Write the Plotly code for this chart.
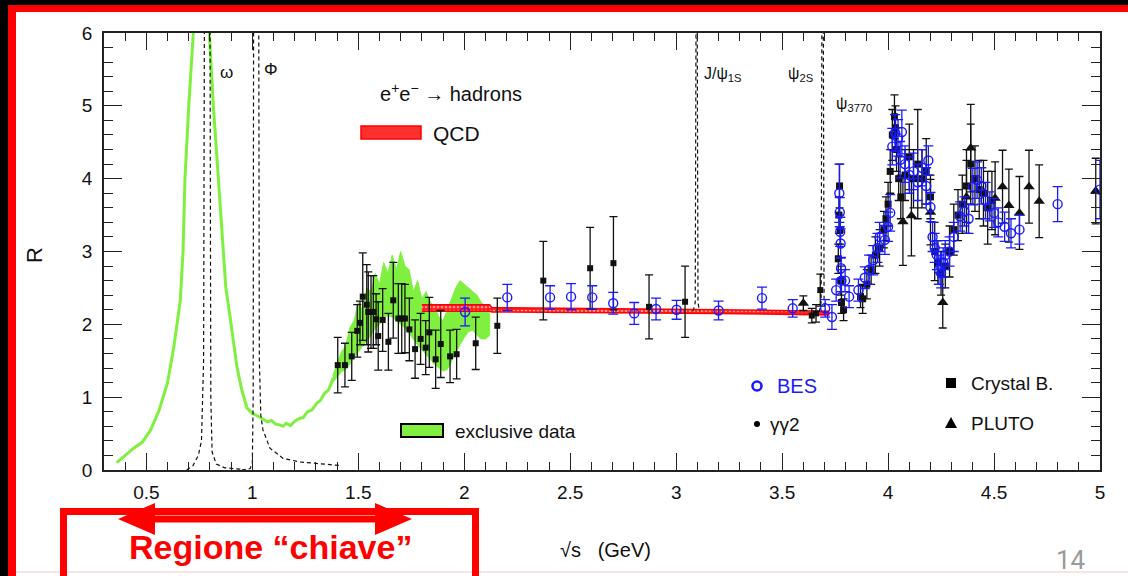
import plotly.graph_objects as go

# ---------------- data ----------------
# exclusive data (green): thin curve at low energy, band above 1.4 GeV
green_x = [0.36, 0.40, 0.44, 0.48, 0.52, 0.56, 0.60, 0.63, 0.66, 0.673, 0.682, 0.70, 0.719, 0.74,
           0.775, 0.785, 0.797, 0.816, 0.839, 0.86, 0.875, 0.895, 0.91, 0.927, 0.95, 0.975, 1.00,
           1.02, 1.05, 1.07, 1.09, 1.11, 1.13, 1.145, 1.16, 1.18, 1.20, 1.225, 1.24, 1.26, 1.28,
           1.305, 1.32, 1.34, 1.36, 1.38, 1.40]
green_y = [0.10, 0.20, 0.30, 0.38, 0.55, 0.82, 1.20, 1.70, 2.33, 3.00, 4.00, 5.00, 6.00, 7.50,
           8.50, 7.50, 6.00, 5.00, 4.00, 3.00, 2.50, 2.10, 1.75, 1.42, 1.10, 0.85, 0.78,
           0.75, 0.70, 0.66, 0.68, 0.63, 0.62, 0.60, 0.64, 0.61, 0.67, 0.71, 0.72, 0.80, 0.82,
           0.92, 0.95, 1.05, 1.10, 1.25, 1.30]
band_x = [1.38, 1.40, 1.42, 1.44, 1.46, 1.48, 1.50, 1.52, 1.54, 1.56, 1.58, 1.60, 1.62, 1.64,
          1.66, 1.68, 1.70, 1.72, 1.74, 1.76, 1.78, 1.80, 1.82, 1.84, 1.86, 1.88, 1.90, 1.92,
          1.94, 1.96, 1.98, 2.00, 2.02, 2.04, 2.06, 2.08, 2.10, 2.12]
band_hi = [1.30, 1.45, 1.62, 1.70, 1.95, 2.05, 2.30, 2.20, 2.50, 2.45, 2.70, 2.55, 2.85, 2.70,
           2.95, 2.75, 3.00, 2.80, 2.75, 2.45, 2.60, 2.35, 2.45, 2.30, 2.25, 2.10, 2.05, 2.20,
           2.35, 2.50, 2.60, 2.55, 2.50, 2.45, 2.40, 2.30, 2.25, 2.15]
band_lo = [1.20, 1.28, 1.35, 1.38, 1.45, 1.55, 1.62, 1.70, 1.78, 1.85, 1.95, 2.00, 2.10, 2.12,
           2.10, 2.05, 2.00, 1.95, 1.88, 1.80, 1.72, 1.65, 1.58, 1.52, 1.45, 1.40, 1.36, 1.38,
           1.48, 1.60, 1.72, 1.82, 1.90, 1.92, 1.85, 1.80, 1.80, 1.85]

# QCD band
qcd_x = [1.80, 2.12, 2.13, 2.60, 3.20, 3.72]
qcd_lo = [2.18, 2.18, 2.17, 2.16, 2.15, 2.13]
qcd_hi = [2.27, 2.27, 2.23, 2.22, 2.20, 2.18]

# narrow resonances (dashed)
omega_x = [0.69, 0.72, 0.745, 0.76, 0.770, 0.774, 0.800, 0.804, 0.81, 0.83, 0.87, 0.95]
omega_y = [0.00, 0.06, 0.20, 0.40, 1.50, 6.50, 6.50, 1.00, 0.25, 0.08, 0.03, 0.01]
phi_x = [0.95, 0.99, 1.00, 1.004, 1.006, 1.030, 1.033, 1.04, 1.05, 1.083, 1.145, 1.225, 1.38, 1.42]
phi_y = [0.00, 0.02, 0.10, 1.00, 6.50, 6.50, 1.50, 0.75, 0.55, 0.30, 0.16, 0.11, 0.07, 0.06]
jpsi_x = [3.08, 3.09, 3.094, 3.099, 3.103, 3.11]
jpsi_y = [2.18, 2.30, 6.50, 6.50, 2.30, 2.18]
psi2s_x = [3.675, 3.684, 3.688, 3.694, 3.698, 3.705]
psi2s_y = [2.17, 2.30, 6.50, 6.50, 2.30, 2.15]

# gamma gamma 2
gg2_x = [1.403, 1.437, 1.469, 1.495, 1.508, 1.521, 1.540, 1.547, 1.560, 1.571, 1.584, 1.594,
         1.615, 1.642, 1.665, 1.689, 1.705, 1.720, 1.741, 1.768, 1.794, 1.818, 1.835, 1.865,
         1.889, 1.933, 1.964, 2.054, 2.156, 2.373, 2.594, 2.704, 2.872, 3.042, 3.64, 3.66, 3.68]
gg2_y = [1.44, 1.44, 1.56, 1.91, 2.02, 2.38, 2.27, 2.17, 2.17, 2.17, 2.07, 1.84,
         2.06, 1.76, 2.33, 2.08, 2.08, 2.08, 1.93, 1.66, 1.80, 1.68, 1.89, 1.52,
         1.73, 1.56, 1.59, 1.74, 1.98, 2.60, 2.77, 2.84, 2.24, 2.31, 2.12, 2.15, 2.47]
gg2_e = [0.38, 0.30, 0.33, 0.36, 0.30, 0.60, 0.55, 0.55, 0.50, 0.50, 0.35, 0.47,
         0.43, 0.39, 0.52, 0.48, 0.48, 0.47, 0.43, 0.40, 0.35, 0.37, 0.48, 0.40,
         0.46, 0.36, 0.34, 0.36, 0.38, 0.54, 0.56, 0.64, 0.44, 0.49, 0.10, 0.12, 0.22]

# BES
bes_x = [2.004, 2.203, 2.405, 2.504, 2.604, 2.703, 2.802, 2.905, 3.002, 3.20, 3.405, 3.55,
         3.703, 3.735, 3.755, 3.770, 3.772, 3.774, 3.776, 3.778, 3.780, 3.797, 3.816, 3.86,
         3.89, 3.91, 3.93, 3.95, 3.96, 3.985, 4.00, 4.01, 4.02, 4.033, 4.047, 4.057, 4.065,
         4.08, 4.10, 4.12, 4.14, 4.16, 4.18, 4.19, 4.20, 4.21, 4.22, 4.23, 4.24, 4.25, 4.26,
         4.27, 4.29, 4.31, 4.34, 4.36, 4.38, 4.40, 4.42, 4.44, 4.46, 4.48, 4.50, 4.52, 4.55,
         4.58, 4.62, 4.80, 5.00]
bes_y = [2.17, 2.37, 2.37, 2.38, 2.37, 2.29, 2.15, 2.21, 2.20, 2.19, 2.36, 2.22,
         2.22, 2.10, 2.47, 3.80, 3.54, 3.27, 3.11, 2.77, 2.60, 2.60, 2.38, 2.47,
         2.64, 2.75, 2.88, 3.05, 3.20, 3.16, 3.34, 3.53, 4.44, 4.63, 4.56, 4.26, 4.64,
         4.20, 4.05, 4.10, 3.95, 4.15, 3.90, 4.25, 3.61, 3.20, 3.05, 2.95, 2.75, 2.70, 2.85,
         2.95, 3.00, 3.20, 3.48, 3.55, 3.45, 3.89, 3.98, 3.90, 3.70, 3.62, 3.53, 3.40, 3.34,
         3.25, 3.30, 3.65, 3.85]
bes_e = [0.19, 0.18, 0.16, 0.18, 0.16, 0.15, 0.15, 0.15, 0.13, 0.13, 0.15, 0.12,
         0.12, 0.17, 0.15, 0.40, 0.20, 0.20, 0.20, 0.15, 0.15, 0.15, 0.15, 0.15,
         0.15, 0.20, 0.20, 0.20, 0.20, 0.20, 0.20, 0.25, 0.25, 0.25, 0.25, 0.25, 0.30,
         0.25, 0.25, 0.25, 0.25, 0.25, 0.25, 0.20, 0.20, 0.20, 0.20, 0.20, 0.20, 0.20, 0.20,
         0.20, 0.20, 0.20, 0.20, 0.20, 0.20, 0.25, 0.25, 0.25, 0.25, 0.20, 0.20, 0.20, 0.20,
         0.20, 0.20, 0.24, 0.40]

# Crystal Ball
cb_x = [3.765, 3.768, 3.771, 3.774, 3.777, 3.780, 3.790, 3.87, 3.88, 3.90, 3.92, 3.94, 3.96,
        3.98, 3.99, 4.00, 4.01, 4.02, 4.03, 4.035, 4.04, 4.05, 4.06, 4.08, 4.10, 4.12, 4.14,
        4.16, 4.18, 4.20, 4.22, 4.235, 4.25, 4.27, 4.29, 4.31, 4.33, 4.35, 4.37, 4.39, 4.41,
        4.43, 4.45, 4.47, 4.49]
cb_y = [2.90, 3.50, 3.90, 3.30, 2.60, 2.30, 2.20, 2.38, 2.35, 2.55, 2.75, 2.95, 3.05,
        3.30, 3.45, 3.65, 4.10, 4.60, 4.85, 4.70, 4.40, 4.00, 3.75, 4.05, 4.30, 4.00, 4.20,
        4.00, 4.10, 3.75, 3.00, 2.85, 2.70, 2.80, 3.00, 3.30, 3.50, 3.65, 3.90, 4.20, 4.00,
        3.85, 3.80, 3.60, 3.70]
cb_e = [0.20, 0.25, 0.30, 0.20, 0.20, 0.15, 0.15, 0.15, 0.20, 0.20, 0.20, 0.25, 0.25,
        0.25, 0.30, 0.30, 0.30, 0.35, 0.30, 0.30, 0.30, 0.30, 0.30, 0.35, 0.45, 0.40, 0.75,
        0.40, 0.45, 0.30, 0.40, 0.30, 0.30, 0.30, 0.35, 0.35, 0.35, 0.40, 0.50, 0.55, 0.45,
        0.40, 0.45, 0.50, 0.40]

# PLUTO
pl_x = [3.60, 4.07, 4.11, 4.20, 4.258, 4.37, 4.39, 4.505, 4.54, 4.57, 4.62, 4.665, 4.713, 4.98]
pl_y = [2.29, 3.41, 3.49, 3.54, 2.30, 3.75, 4.42, 3.73, 3.89, 3.63, 3.53, 3.89, 3.69, 3.83]
pl_e = [0.10, 0.60, 0.55, 0.45, 0.35, 0.50, 0.60, 0.50, 0.50, 0.50, 0.50, 0.50, 0.50, 0.45]

x_tickvals = [0.5, 1, 1.5, 2, 2.5, 3, 3.5, 4, 4.5, 5]
x_ticktext = ["0.5", "1", "1.5", "2", "2.5", "3", "3.5", "4", "4.5", "5"]
y_tickvals = [0, 1, 2, 3, 4, 5, 6]
y_ticktext = ["0", "1", "2", "3", "4", "5", "6"]

# ---------------- styling / geometry ----------------
W, H = 1128, 576
L, R_, T, B = 104, 1100, 33, 470
XR, YR = [0.3, 5.0], [0, 6]
FONT = "Liberation Sans, Arial, Helvetica, sans-serif"
NARROW = "Liberation Sans Narrow, Arial Narrow, Liberation Sans, sans-serif"
GREEN = "#80f040"
BLUE = "#1a1aff"
BLACK = "#111111"
AXC = "#222222"

x_minor = [round(0.3 + 0.1 * i, 2) for i in range(48)]
y_minor = [round(0.2 * i, 2) for i in range(31)]


def px(p):
    return (p - L) / (R_ - L)


def py(p):
    return (B - p) / (B - T)


fig = go.Figure()

# green band
fig.add_trace(go.Scatter(x=band_x + band_x[::-1], y=band_hi + band_lo[::-1], fill="toself",
                         fillcolor=GREEN, line=dict(color=GREEN, width=1), mode="lines",
                         hoverinfo="skip"))
fig.add_trace(go.Scatter(x=green_x, y=green_y, mode="lines", line=dict(color=GREEN, width=3)))

# QCD band
fig.add_trace(go.Scatter(x=qcd_x + qcd_x[::-1], y=qcd_hi + qcd_lo[::-1], fill="toself",
                         fillcolor="#ff2020",
                         fillpattern=dict(shape=".", bgcolor="#ff2020", fgcolor="white",
                                          size=4, solidity=0.35),
                         line=dict(color="#ff0000", width=1.5), mode="lines"))

# dashed resonances
for xs, ys in [(omega_x, omega_y), (phi_x, phi_y), (jpsi_x, jpsi_y), (psi2s_x, psi2s_y)]:
    fig.add_trace(go.Scatter(x=xs, y=ys, mode="lines",
                             line=dict(color=BLACK, width=1.2, dash="4px,3px")))

# data series
err_black = dict(type="data", color=BLACK, thickness=1.3, width=4)
fig.add_trace(go.Scatter(x=gg2_x, y=gg2_y, mode="markers",
                         marker=dict(symbol="square", size=6, color=BLACK),
                         error_y=dict(err_black, array=gg2_e)))
fig.add_trace(go.Scatter(x=cb_x, y=cb_y, mode="markers",
                         marker=dict(symbol="square", size=7, color=BLACK),
                         error_y=dict(err_black, array=cb_e)))
fig.add_trace(go.Scatter(x=pl_x, y=pl_y, mode="markers",
                         marker=dict(symbol="triangle-up", size=10, color=BLACK),
                         error_y=dict(err_black, array=pl_e)))
fig.add_trace(go.Scatter(x=bes_x, y=bes_y, mode="markers",
                         marker=dict(symbol="circle-open", size=9, color=BLUE,
                                     line=dict(width=1.4, color=BLUE)),
                         error_y=dict(type="data", array=bes_e, color=BLUE, thickness=1.3,
                                      width=5)))

# empty traces so that the tick-only overlay axes get their own subplots
for xa, ya in [("x2", "y"), ("x3", "y"), ("x4", "y"), ("x", "y2"), ("x", "y3"), ("x", "y4")]:
    fig.add_trace(go.Scatter(x=[None], y=[None], xaxis=xa, yaxis=ya, mode="markers",
                             hoverinfo="skip"))

shapes = []
# slide frame: black and red borders
shapes.append(dict(type="rect", xref="paper", yref="paper", x0=px(0), x1=px(8), y0=py(0), y1=py(H),
                   fillcolor="black", line=dict(width=0)))
shapes.append(dict(type="rect", xref="paper", yref="paper", x0=px(0), x1=px(W), y0=py(0), y1=py(5),
                   fillcolor="black", line=dict(width=0)))
shapes.append(dict(type="rect", xref="paper", yref="paper", x0=px(8), x1=px(16), y0=py(5), y1=py(H),
                   fillcolor="#ff0000", line=dict(width=0)))
shapes.append(dict(type="rect", xref="paper", yref="paper", x0=px(8), x1=px(W), y0=py(5), y1=py(12),
                   fillcolor="#ff0000", line=dict(width=0)))
shapes.append(dict(type="line", xref="paper", yref="paper", x0=px(16), x1=px(W), y0=py(572), y1=py(572),
                   line=dict(color="#f6c6c6", width=1)))
# red box
shapes.append(dict(type="rect", xref="paper", yref="paper", x0=px(63.5), x1=px(475.5),
                   y0=py(511.5), y1=py(600), line=dict(color="#ff0000", width=7)))
# double arrow
ay = 519
pts = [(118, ay), (155, ay - 16), (155, ay - 3.5), (375, ay - 3.5), (375, ay - 16), (412, ay),
       (375, ay + 16), (375, ay + 3.5), (155, ay + 3.5), (155, ay + 16)]
path = "M " + " L ".join(f"{px(a):.5f},{py(b):.5f}" for a, b in pts) + " Z"
shapes.append(dict(type="path", xref="paper", yref="paper", path=path, fillcolor="#ff0000",
                   line=dict(width=0)))

# legend swatches
shapes.append(dict(type="rect", xref="paper", yref="paper", x0=px(361), x1=px(421), y0=py(126),
                   y1=py(139), fillcolor="#ff3030", line=dict(color="#ff0000", width=1.5)))
shapes.append(dict(type="rect", xref="paper", yref="paper", x0=px(401), x1=px(443), y0=py(424),
                   y1=py(437), fillcolor=GREEN, line=dict(color="black", width=2)))
# marker symbols for legend
shapes.append(dict(type="circle", xref="paper", yref="paper", x0=px(752.5), x1=px(761.5),
                   y0=py(390.5), y1=py(381.5), line=dict(color=BLUE, width=2.6)))
shapes.append(dict(type="circle", xref="paper", yref="paper", x0=px(754), x1=px(760),
                   y0=py(427), y1=py(421), fillcolor="black", line=dict(width=0)))
shapes.append(dict(type="rect", xref="paper", yref="paper", x0=px(946), x1=px(956),
                   y0=py(388), y1=py(378), fillcolor="black", line=dict(width=0)))
tri = [(945, 428), (957, 428), (951, 417)]
shapes.append(dict(type="path", xref="paper", yref="paper",
                   path="M " + " L ".join(f"{px(a):.5f},{py(b):.5f}" for a, b in tri) + " Z",
                   fillcolor="black", line=dict(width=0)))

ann = []


def text(x, y, s, size=18, color=BLACK, xanchor="left", family=FONT, **kw):
    ann.append(dict(x=px(x), y=py(y), xref="paper", yref="paper", text=s, showarrow=False,
                    xanchor=xanchor, yanchor="middle", font=dict(size=size, color=color,
                                                                   family=family), **kw))


text(218, 72, "ω", 17)
text(262, 70, "Φ", 17)
text(378, 92, "e<sup>+</sup>e<sup>−</sup> → hadrons", 20)
text(431, 133, "QCD", 21)
text(702, 74, "J/ψ<sub>1S</sub>", 16)
text(786, 74, "ψ<sub>2S</sub>", 16)
text(834, 104, "ψ<sub>3770</sub>", 16)
text(775, 386, "BES", 20, BLUE)
text(768, 424, "γγ2", 19)
text(969, 383, "Crystal B.", 19)
text(969, 423, "PLUTO", 19)
text(453, 431, "exclusive data", 19)
text(35, 255, "R", 22, xanchor="center", textangle=-90)
text(605, 550, "√s&nbsp;&nbsp;&nbsp;(GeV)", 20, xanchor="center")
text(270, 547, "<b>Regione “chiave”</b>", 34, "#ff0000", xanchor="center")
text(1071, 560, "14", 26, "#9a9a9a", xanchor="center", family="Roboto, Liberation Sans, sans-serif")

tick_style = dict(ticks="inside", tickcolor=AXC, showgrid=False, zeroline=False)
overlay = dict(tick_style, showticklabels=False, showline=False, tickmode="array")

fig.update_layout(
    width=W, height=H,
    margin=dict(l=L, r=W - R_, t=T, b=H - B, pad=0),
    paper_bgcolor="white", plot_bgcolor="white",
    showlegend=False,
    xaxis=dict(tick_style, range=XR, tickmode="array", tickvals=x_tickvals, ticktext=x_ticktext,
               ticklen=17, tickwidth=1.3, showline=True, linecolor=AXC, linewidth=1.5,
               mirror=True, ticklabelstandoff=4,
               tickfont=dict(family=NARROW, size=19, color=BLACK)),
    yaxis=dict(tick_style, range=YR, tickmode="array", tickvals=y_tickvals, ticktext=y_ticktext,
               ticklen=18, tickwidth=1.3, showline=True, linecolor=AXC, linewidth=1.5,
               mirror=True, ticklabelstandoff=6,
               tickfont=dict(family=FONT, size=19, color=BLACK)),
    # minor ticks and mirrored ticks on overlaying axes
    xaxis2=dict(overlay, overlaying="x", anchor="y", side="bottom", range=XR,
                tickvals=x_minor, ticklen=8, tickwidth=1.2),
    xaxis3=dict(overlay, overlaying="x", anchor="y", side="top", range=XR,
                tickvals=x_tickvals, ticklen=17, tickwidth=1.3),
    xaxis4=dict(overlay, overlaying="x", anchor="y", side="top", range=XR,
                tickvals=x_minor, ticklen=8, tickwidth=1.2),
    yaxis2=dict(overlay, overlaying="y", anchor="x", side="left", range=YR,
                tickvals=y_minor, ticklen=9, tickwidth=1.2),
    yaxis3=dict(overlay, overlaying="y", anchor="x", side="right", range=YR,
                tickvals=y_tickvals, ticklen=18, tickwidth=1.3),
    yaxis4=dict(overlay, overlaying="y", anchor="x", side="right", range=YR,
                tickvals=y_minor, ticklen=9, tickwidth=1.2),
    shapes=shapes, annotations=ann,
)

fig.write_html("out.html")
